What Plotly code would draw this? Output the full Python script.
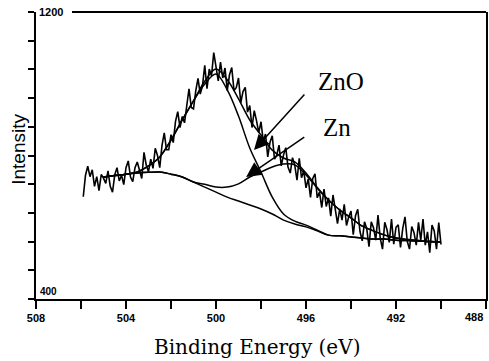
import plotly.graph_objects as go

# ---------------- data ----------------
# raw spectrum, binding energy 505.9 -> 490.0 eV in 0.1 eV steps
raw_energy = [round(505.9 - 0.1 * i, 1) for i in range(160)]
raw_counts = [
    685, 745, 770, 741, 760, 714, 741, 702, 747, 737,
    722, 757, 714, 698, 746, 766, 729, 745, 719, 766,
    785, 740, 727, 766, 782, 758, 736, 809, 773, 755,
    790, 764, 820, 800, 766, 828, 863, 816, 816, 858,
    836, 895, 922, 878, 909, 891, 942, 986, 934, 930,
    980, 1015, 971, 995, 1051, 986, 1041, 1022, 1087, 1045,
    1008, 1060, 1016, 1044, 981, 1025, 1045, 981, 989, 1016,
    947, 978, 990, 921, 939, 878, 925, 897, 864, 894,
    840, 860, 796, 837, 855, 790, 801, 829, 771, 801,
    822, 768, 751, 794, 773, 731, 792, 738, 757, 710,
    735, 683, 736, 749, 682, 698, 655, 706, 658, 682,
    631, 690, 648, 610, 651, 620, 664, 605, 629, 645,
    579, 632, 650, 588, 562, 615, 596, 546, 615, 599,
    564, 634, 569, 539, 614, 593, 558, 623, 553, 600,
    607, 544, 597, 629, 561, 539, 602, 585, 550, 614,
    564, 623, 550, 587, 529, 606, 590, 539, 613, 552,
]

# fitted curves, 505.0 -> 490.0 eV in 0.5 eV steps
fit_energy = [505.0, 504.5, 504.0, 503.5, 503.0, 502.5, 502.0, 501.5, 501.0, 500.5,
              500.0, 499.5, 499.0, 498.5, 498.0, 497.5, 497.0, 496.5, 496.0, 495.5,
              495.0, 494.5, 494.0, 493.5, 493.0, 492.5, 492.0, 491.5, 491.0, 490.5, 490.0]
background = [740, 744, 748, 751, 753, 754, 748, 740, 726, 712,
              698, 684, 673, 662, 651, 637, 620, 609, 601, 590,
              578, 576, 573, 570, 567, 567, 564, 563, 562, 560, 559]
zn_curve = [740, 744, 748, 751, 753, 754, 748, 740, 726, 720,
            712, 712, 721, 740, 754, 768, 776, 774, 746, 709,
            676, 648, 626, 603, 590, 578, 570, 566, 563, 560, 559]
zno_curve = [740, 744, 748, 754, 771, 796, 843, 899, 952, 999,
             1027, 983, 910, 821, 754, 684, 637, 617, 606, 592,
             578, 576, 573, 570, 567, 567, 564, 563, 562, 560, 559]
envelope = [740, 744, 748, 754, 771, 796, 843, 899, 952, 1007,
            1041, 1011, 958, 899, 857, 815, 793, 782, 751, 711,
            676, 648, 626, 603, 590, 578, 570, 566, 563, 560, 559]

x_tick_vals = [508, 506, 504, 502, 500, 498, 496, 494, 492, 490, 488]
x_tick_text = ["<b>508</b>", "", "<b>504</b>", "", "<b>500</b>", "", "<b>496</b>", "",
               "<b>492</b>", "", ""]
y_tick_vals = [400, 480, 560, 640, 720, 800, 880, 960, 1040, 1120, 1200]

fig = go.Figure()
for curve in (background, zn_curve, zno_curve, envelope):
    fig.add_trace(go.Scatter(x=fit_energy, y=curve, mode="lines",
                             line=dict(color="black", width=1.5, shape="spline", smoothing=1.0),
                             hoverinfo="skip", showlegend=False))
fig.add_trace(go.Scatter(x=raw_energy, y=raw_counts, mode="lines",
                         line=dict(color="black", width=1.6), showlegend=False))

fig.update_layout(
    width=489, height=361,
    margin=dict(l=36, r=1, t=12, b=62),
    paper_bgcolor="white", plot_bgcolor="white",
    showlegend=False,
    xaxis=dict(range=[508, 488], tickvals=x_tick_vals, ticktext=x_tick_text,
               ticks="outside", ticklen=8, tickwidth=1.5, tickcolor="black",
               showline=True, linecolor="black", linewidth=2, showgrid=False,
               zeroline=False,
               tickfont=dict(family="Liberation Sans", size=11, color="black")),
    yaxis=dict(range=[400, 1200], tickvals=y_tick_vals, showticklabels=False,
               ticks="outside", ticklen=6, tickwidth=1.5, tickcolor="black",
               showline=True, linecolor="black", linewidth=2, mirror=True,
               showgrid=False, zeroline=False),
    font=dict(color="black"),
)

# top frame line (starts right of the "1200" label)
fig.add_shape(type="line", xref="paper", yref="paper", x0=0.08, x1=1, y0=1, y1=1,
              line=dict(color="black", width=2))

ann = []
ann.append(dict(text="<b>1200</b>", xref="paper", yref="y", x=0.003, y=1200,
                xanchor="left", yanchor="middle", showarrow=False,
                font=dict(family="Liberation Sans", size=11, color="black")))
ann.append(dict(text="<b>400</b>", xref="paper", yref="y", x=0.004, y=422,
                xanchor="left", yanchor="middle", showarrow=False,
                font=dict(family="Liberation Sans", size=10, color="black")))
ann.append(dict(text="<b>488</b>", xref="paper", yref="paper", x=0.998, y=-0.063,
                xanchor="right", yanchor="middle", showarrow=False,
                font=dict(family="Liberation Sans", size=11, color="black")))
ann.append(dict(text="ZnO", xref="x", yref="y", x=494.46, y=1005, showarrow=False,
                font=dict(family="Liberation Serif", size=25, color="black")))
ann.append(dict(text="Zn", xref="x", yref="y", x=494.64, y=877, showarrow=False,
                font=dict(family="Liberation Serif", size=25, color="black")))
ann.append(dict(text="", xref="x", yref="y", x=498.31, y=815,
                axref="x", ayref="y", ax=496.01, ay=974, showarrow=True,
                arrowhead=2, arrowsize=2, arrowwidth=1.5, arrowcolor="black"))
ann.append(dict(text="", xref="x", yref="y", x=498.66, y=740,
                axref="x", ayref="y", ax=496.01, ay=854, showarrow=True,
                arrowhead=2, arrowsize=2, arrowwidth=1.5, arrowcolor="black"))
ann.append(dict(text="Binding\u00a0Energy\u00a0(eV)", xref="paper", yref="paper",
                x=0.492, y=-0.167, xanchor="center", yanchor="middle", showarrow=False,
                font=dict(family="DejaVu Serif", size=20, color="black")))
ann.append(dict(text="Intensity", xref="paper", yref="paper", x=-0.038, y=0.523,
                xanchor="center", yanchor="middle", textangle=-90, showarrow=False,
                font=dict(family="Liberation Sans", size=19, color="black")))
fig.update_layout(annotations=ann)

fig.write_html("out.html")
